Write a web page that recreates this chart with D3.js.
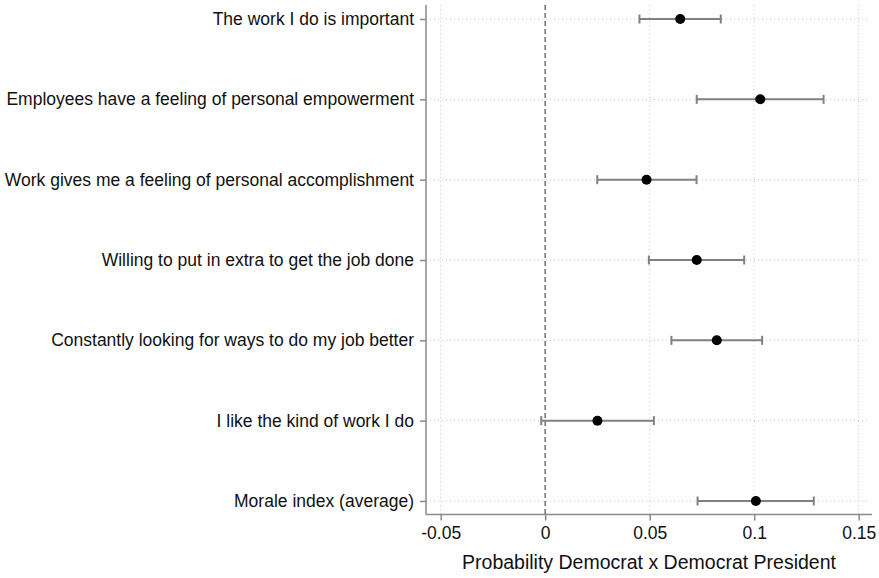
<!DOCTYPE html>
<html>
<head>
<meta charset="utf-8">
<script src="https://cdn.jsdelivr.net/npm/d3@7"></script>
<style>
  html, body { margin: 0; padding: 0; background: #fff; }
  svg { display: block; font-family: "Liberation Sans", Arial, sans-serif; }
</style>
</head>
<body>
<svg id="chart" width="879" height="578"></svg>
<script>
const categories = [
  "The work I do is important",
  "Employees have a feeling of personal empowerment",
  "Work gives me a feeling of personal accomplishment",
  "Willing to put in extra to get the job done",
  "Constantly looking for ways to do my job better",
  "I like the kind of work I do",
  "Morale index (average)"
];
const estimates = [0.0646, 0.1029, 0.0485, 0.0725, 0.0821, 0.0250, 0.1008];
const lower     = [0.0451, 0.0725, 0.0249, 0.0496, 0.0604, -0.0019, 0.0729];
const upper     = [0.0840, 0.1332, 0.0724, 0.0952, 0.1038, 0.0520, 0.1285];
const xTicks = [-0.05, 0, 0.05, 0.1, 0.15];
const xTickLabels = ["-0.05", "0", "0.05", "0.1", "0.15"];
const xTitle = "Probability Democrat x Democrat President";

const svg = d3.select("#chart");
const pLeft = 426, pRight = 872, pTop = 5, pBottom = 514.5;

const x = d3.scaleLinear().domain([-0.05, 0.15]).range([440.7, 858.7]);
const y = d3.scalePoint().domain(categories).range([19, 501]);

// gridlines
const grid = svg.append("g");
grid.selectAll("line.v").data(xTicks).join("line")
  .attr("x1", d => x(d)).attr("x2", d => x(d))
  .attr("y1", pTop).attr("y2", pBottom)
  .attr("stroke", "#c8c8c8").attr("stroke-width", 1)
  .attr("stroke-dasharray", "1,3");
grid.selectAll("line.h").data(categories).join("line")
  .attr("x1", pLeft).attr("x2", pRight - 2)
  .attr("y1", d => y(d)).attr("y2", d => y(d))
  .attr("stroke", "#c8c8c8").attr("stroke-width", 1)
  .attr("stroke-dasharray", "1,3");

// zero reference line
svg.append("line")
  .attr("x1", x(0)).attr("x2", x(0))
  .attr("y1", pTop).attr("y2", pBottom)
  .attr("stroke", "#707070").attr("stroke-width", 1.5)
  .attr("stroke-dasharray", "5,3");

// axes
const xAxis = d3.axisBottom(x).tickValues(xTicks)
  .tickFormat((d, i) => xTickLabels[i]).tickSize(6).tickSizeOuter(0);
const gx = svg.append("g").attr("transform", `translate(0,${pBottom})`).call(xAxis);
gx.select(".domain").attr("d", `M${pLeft},0H${pRight}`);
gx.selectAll(".domain, .tick line").attr("stroke", "#8a8a8a").attr("stroke-width", 1.5);
gx.selectAll(".tick text").attr("font-size", 17.5).attr("fill", "#111").attr("dy", "0.9em")
  .attr("font-family", "Liberation Sans, Arial, sans-serif");

const yAxis = d3.axisLeft(y).tickSize(6).tickSizeOuter(0).tickPadding(6);
const gy = svg.append("g").attr("transform", `translate(${pLeft},0)`).call(yAxis);
gy.select(".domain").attr("d", `M0,${pTop}V${pBottom}`);
gy.selectAll(".domain, .tick line").attr("stroke", "#8a8a8a").attr("stroke-width", 1.5);
gy.selectAll(".tick text").attr("font-size", 17.5).attr("fill", "#111")
  .attr("font-family", "Liberation Sans, Arial, sans-serif");

// x title
svg.append("text")
  .attr("x", (pLeft + pRight) / 2).attr("y", 569)
  .attr("text-anchor", "middle").attr("font-size", 19.5).attr("fill", "#111")
  .text(xTitle);

// error bars
const rows = categories.map((c, i) => ({c, est: estimates[i], lo: lower[i], hi: upper[i]}));
const eb = svg.append("g").attr("stroke", "#808080").attr("stroke-width", 2).attr("fill", "none");
eb.selectAll("line.bar").data(rows).join("line")
  .attr("x1", d => x(d.lo)).attr("x2", d => x(d.hi))
  .attr("y1", d => y(d.c)).attr("y2", d => y(d.c));
eb.selectAll("line.capl").data(rows).join("line")
  .attr("x1", d => x(d.lo)).attr("x2", d => x(d.lo))
  .attr("y1", d => y(d.c) - 4.5).attr("y2", d => y(d.c) + 4.5);
eb.selectAll("line.caph").data(rows).join("line")
  .attr("x1", d => x(d.hi)).attr("x2", d => x(d.hi))
  .attr("y1", d => y(d.c) - 4.5).attr("y2", d => y(d.c) + 4.5);

// points
svg.append("g").selectAll("circle").data(rows).join("circle")
  .attr("cx", d => x(d.est)).attr("cy", d => y(d.c)).attr("r", 5)
  .attr("fill", "#000");
</script>
</body>
</html>
